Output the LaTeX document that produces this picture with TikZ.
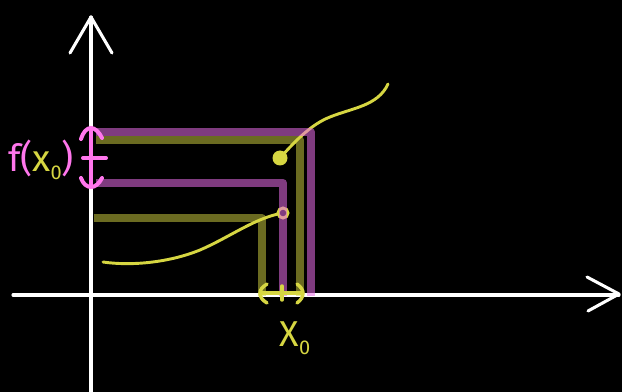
\documentclass[tikz,border=0pt]{standalone}
\usepackage{fontspec}
\setsansfont{Fira Sans}
\definecolor{chalkyellow}{RGB}{214,214,66}
\definecolor{chalkpink}{RGB}{255,118,236}
\definecolor{bandpurple}{RGB}{232,108,232}
\tikzset{every picture/.style={line width=0.75pt}}
\tikzset{
  axisline/.style={draw=white, line width=2.3pt, line cap=round, line join=round},
  purpleband/.style={draw=bandpurple, draw opacity=0.55, line width=6pt, line join=round},
  oliveband/.style={draw=chalkyellow, draw opacity=0.5, line width=6pt, line join=round},
  chalkcurve/.style={draw=chalkyellow, line width=2.2pt, line cap=round},
  pinkbrace/.style={draw=chalkpink, line width=3pt, line cap=round},
  yellowbrace/.style={draw=chalkyellow, line width=2.6pt, line cap=round}
}

\begin{document}
\begin{tikzpicture}[x=0.75pt,y=0.75pt,yscale=-1,xscale=1]
%Background
\fill [black] (0,0) rectangle (622,392);
\useasboundingbox (0,0) rectangle (622,392);

%Straight Lines: vertical axis
\draw [axisline] (91,392) -- (91,17) ;
\draw [axisline] (70,53) -- (91,17) -- (112,53) ;
%Straight Lines: horizontal axis
\draw [axisline] (13,295) -- (619,295) ;
\draw [axisline] (587,277) -- (619,294) -- (588,311) ;

%Curve: left piece
\draw [chalkcurve] (103,262) .. controls (130,266) and (168,263) .. (200,250) .. controls (228,238) and (252,220) .. (278,214) ;
%Shape: Circle (open end)
\draw [chalkcurve] (283,213) circle [radius=5] ;
%Curve: right piece
\draw [chalkcurve] (281,157) .. controls (296,140) and (312,124) .. (330,117) .. controls (352,108) and (378,106) .. (388,84) ;
%Shape: Circle (filled end)
\fill [chalkyellow] (280,158) circle [radius=7.5] ;

%Bands
\draw [purpleband] (96,132) -- (311,132) -- (311,296) ;
\draw [oliveband] (96,140) -- (300,140) -- (300,296) ;
\draw [purpleband] (96,183) -- (283,183) -- (283,296) ;
\draw [oliveband] (94,218) -- (262,218) -- (262,296) ;

%Brace on the vertical axis
\draw [pinkbrace] (91,128) -- (91,186) ;
\draw [pinkbrace] (81,139) .. controls (83,132) and (87,128) .. (91,128) .. controls (95,128) and (99,132) .. (102,138) ;
\draw [pinkbrace] (81,178) .. controls (83,184) and (87,187) .. (91,187) .. controls (95,187) and (99,184) .. (102,178) ;
\draw [pinkbrace] (83,158) -- (106,158) ;

%Brace on the horizontal axis
\draw [yellowbrace] (261,293) -- (302,293) ;
\draw [yellowbrace] (267,284) .. controls (262,287) and (260,290) .. (260,293) .. controls (260,297) and (262,300) .. (267,303) ;
\draw [yellowbrace] (297,284) .. controls (301,287) and (303,290) .. (303,293) .. controls (303,297) and (301,300) .. (297,303) ;
\draw [yellowbrace] (282,286) -- (282,300) ;

% Text Node
\draw (41,160) node [inner sep=0.75pt, font=\sffamily\fontsize{28}{30}\selectfont] (fxlabel) {\textcolor{chalkpink}{f(}\textcolor{chalkyellow}{x\raisebox{-0.4ex}{\fontsize{15}{16}\selectfont 0}}\textcolor{chalkpink}{)}};
% Text Node
\draw (295,338) node [inner sep=0.75pt, font=\sffamily\fontsize{27}{30}\selectfont, text=chalkyellow] (xnaught) {X\raisebox{-0.45ex}{\fontsize{15}{16}\selectfont 0}};

\end{tikzpicture}
\end{document}
